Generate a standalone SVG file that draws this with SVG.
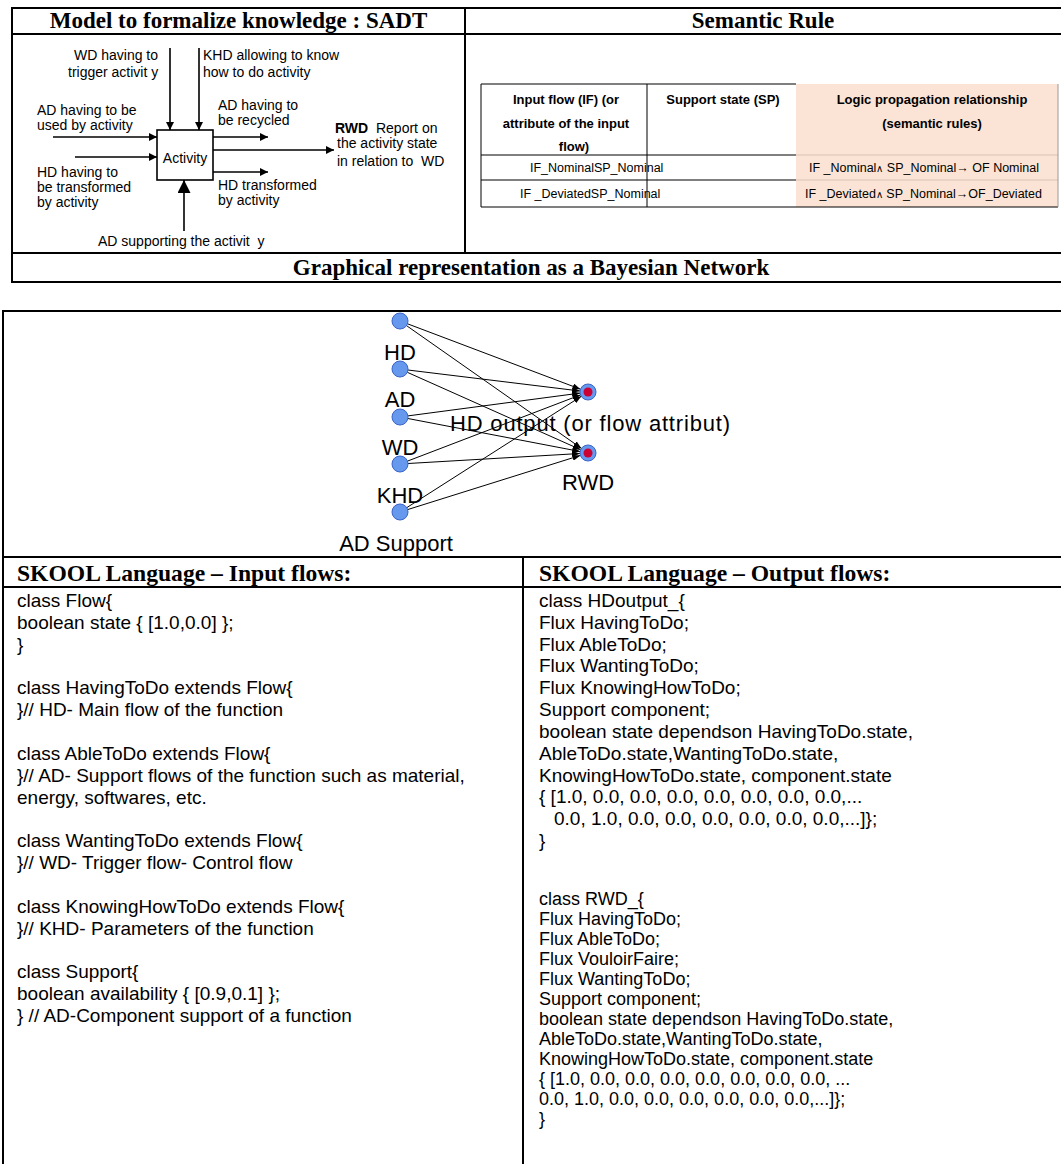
<svg xmlns="http://www.w3.org/2000/svg" width="1061" height="1164" viewBox="0 0 1061 1164">
<style>
.h{font-family:"Liberation Serif","Times New Roman",serif;font-weight:bold;font-size:23px;fill:#000}
.hs{font-family:"Liberation Serif","Times New Roman",serif;font-weight:bold;font-size:23.6px;fill:#000}
.s{font-family:"Liberation Sans",Arial,sans-serif;font-size:14px;fill:#000}
.bn{font-family:"Liberation Sans",Arial,sans-serif;font-size:22px;fill:#000}
.th{font-family:"Liberation Sans",Arial,sans-serif;font-weight:bold;font-size:13px;fill:#000}
.td{font-family:"Liberation Sans",Arial,sans-serif;font-size:12.5px;fill:#000}
.code{font-family:"Liberation Sans",Arial,sans-serif;font-size:19px;fill:#000}
.code2{font-family:"Liberation Sans",Arial,sans-serif;font-size:18px;fill:#000}
.frame{stroke:#000;stroke-width:2;fill:none}
.thin{stroke:#000;stroke-width:1;fill:none}
.arr{stroke:#000;stroke-width:1.6;fill:none}
.edge{stroke:#000;stroke-width:1;fill:none}
.in{fill:#6699ee;stroke:#3a64c8;stroke-width:1}
.out{fill:#6699ee;stroke:#3a64c8;stroke-width:1}
.red{fill:#cc0033}
</style>
<defs>
<marker id="ah" viewBox="0 0 10 10" refX="10" refY="5" markerWidth="9" markerHeight="8" markerUnits="userSpaceOnUse" orient="auto"><path d="M0,0 L10,5 L0,10 z" fill="#000"/></marker>
<marker id="ahb" viewBox="0 0 10 10" refX="10" refY="5" markerWidth="13" markerHeight="13" markerUnits="userSpaceOnUse" orient="auto"><path d="M0,0 L10,5 L0,10 z" fill="#000"/></marker>
<marker id="ahs" viewBox="0 0 8 6" refX="8" refY="3" markerWidth="8" markerHeight="6" markerUnits="userSpaceOnUse" orient="auto"><path d="M0,0 L8,3 L0,6 z" fill="#000"/></marker>
</defs>
<rect x="0" y="0" width="1061" height="1164" fill="#fff"/>

<g id="top-table">
<line class="frame" x1="12" y1="8" x2="1061" y2="8"/>
<line class="frame" x1="12" y1="34" x2="1061" y2="34"/>
<line class="frame" x1="12" y1="253" x2="1061" y2="253"/>
<line class="frame" x1="12" y1="282" x2="1061" y2="282"/>
<line class="frame" x1="12" y1="7" x2="12" y2="283"/>
<line class="frame" x1="465" y1="8" x2="465" y2="253"/>
<text class="h" x="238.5" y="28" text-anchor="middle">Model to formalize knowledge : SADT</text>
<text class="h" x="763" y="28" text-anchor="middle">Semantic Rule</text>
<text class="h" x="531" y="275" text-anchor="middle">Graphical representation as a Bayesian Network</text>
</g>

<g id="sadt-activity">
<rect x="157" y="130" width="56" height="50" fill="#fff" stroke="#000" stroke-width="1.6"/>
<text class="s" x="185" y="163" text-anchor="middle">Activity</text>
</g>
<g id="sadt-connectors">
<line class="arr" x1="170" y1="48" x2="170" y2="130" marker-end="url(#ah)"/>
<line class="arr" x1="199" y1="48" x2="199" y2="130" marker-end="url(#ah)"/>
<line class="arr" x1="53" y1="137" x2="157" y2="137" marker-end="url(#ah)"/>
<line class="arr" x1="75" y1="157" x2="157" y2="157" marker-end="url(#ah)"/>
<line class="arr" x1="213" y1="137" x2="268" y2="137" marker-end="url(#ah)"/>
<line class="arr" x1="213" y1="150" x2="334" y2="150" marker-end="url(#ah)"/>
<line class="arr" x1="213" y1="172" x2="268" y2="172" marker-end="url(#ah)"/>
<line class="arr" x1="184" y1="231" x2="184" y2="180" marker-end="url(#ahb)"/>
</g>
<g id="sadt-labels">
<text class="s" x="74" y="60">WD having to</text>
<text class="s" x="68" y="77" xml:space="preserve">trigger activit y</text>
<text class="s" x="203" y="60">KHD allowing to know</text>
<text class="s" x="203" y="77">how to do activity</text>
<text class="s" x="37" y="115">AD having to be</text>
<text class="s" x="37" y="130">used by activity</text>
<text class="s" x="37" y="177">HD having to</text>
<text class="s" x="37" y="192">be transformed</text>
<text class="s" x="37" y="207">by activity</text>
<text class="s" x="218" y="110">AD having to</text>
<text class="s" x="218" y="125">be recycled</text>
<text class="s" x="335" y="133" xml:space="preserve"><tspan font-weight="bold">RWD</tspan>  Report on</text>
<text class="s" x="337" y="148">the activity state</text>
<text class="s" x="337" y="166" xml:space="preserve">in relation to  WD</text>
<text class="s" x="218" y="190">HD transformed</text>
<text class="s" x="218" y="205">by activity</text>
<text class="s" x="98" y="246" xml:space="preserve">AD supporting the activit  y</text>
</g>

<g id="semantic-table">
<rect x="796" y="84" width="262" height="123" fill="#fbe4d5"/>
<line class="thin" x1="481" y1="84" x2="796" y2="84"/>
<line class="thin" x1="481" y1="155" x2="796" y2="155"/>
<line class="thin" x1="481" y1="180" x2="796" y2="180"/>
<line stroke="#d9c2b3" stroke-width="1" x1="796" y1="155" x2="1058" y2="155"/>
<line stroke="#d9c2b3" stroke-width="1" x1="796" y1="180" x2="1058" y2="180"/>
<line class="thin" x1="481" y1="207" x2="1058" y2="207"/>
<line class="thin" x1="481" y1="84" x2="481" y2="207"/>
<line class="thin" x1="647" y1="84" x2="647" y2="207"/>
<line stroke="#999" stroke-width="1" x1="1058" y1="84" x2="1058" y2="207"/>
<text class="th" x="566" y="104" text-anchor="middle">Input flow (IF) (or</text>
<text class="th" x="566" y="128" text-anchor="middle">attribute of the input</text>
<text class="th" x="574" y="151" text-anchor="middle">flow)</text>
<text class="th" x="723" y="104" text-anchor="middle">Support state (SP)</text>
<text class="th" x="932" y="104" text-anchor="middle">Logic propagation relationship</text>
<text class="th" x="932" y="128" text-anchor="middle">(semantic rules)</text>
<text class="td" x="530" y="172">IF_NominalSP_Nominal</text>
<text class="td" x="520" y="198">IF _DeviatedSP_Nominal</text>
<text class="td" x="809" y="172">IF _Nominal<tspan font-size="10">∧</tspan> SP_Nominal→ OF Nominal</text>
<text class="td" x="805" y="198">IF _Deviated<tspan font-size="10">∧</tspan> SP_Nominal→OF_Deviated</text>
</g>

<g id="lower-frame">
<line class="frame" x1="3" y1="311" x2="1061" y2="311"/>
<line class="frame" x1="3" y1="310" x2="3" y2="1164"/>
<line class="frame" x1="3" y1="557" x2="1061" y2="557"/>
<line class="frame" x1="3" y1="587" x2="1061" y2="587"/>
<line class="frame" x1="523" y1="557" x2="523" y2="1164"/>
<text class="hs" x="17" y="581">SKOOL Language – Input flows:</text>
<text class="hs" x="539" y="581">SKOOL Language – Output flows:</text>
</g>

<g id="bn-connectors">
<line class="edge" x1="407.5" y1="323.8" x2="580.5" y2="389.2" marker-end="url(#ahs)"/>
<line class="edge" x1="406.5" y1="325.6" x2="581.5" y2="448.4" marker-end="url(#ahs)"/>
<line class="edge" x1="407.9" y1="370" x2="580.1" y2="391" marker-end="url(#ahs)"/>
<line class="edge" x1="407.3" y1="372.3" x2="580.7" y2="449.7" marker-end="url(#ahs)"/>
<line class="edge" x1="407.9" y1="415.9" x2="580.1" y2="393.1" marker-end="url(#ahs)"/>
<line class="edge" x1="407.9" y1="418.5" x2="580.1" y2="451.5" marker-end="url(#ahs)"/>
<line class="edge" x1="407.5" y1="461.1" x2="580.5" y2="394.9" marker-end="url(#ahs)"/>
<line class="edge" x1="408" y1="463.5" x2="580" y2="453.5" marker-end="url(#ahs)"/>
<line class="edge" x1="406.7" y1="507.7" x2="581.3" y2="396.3" marker-end="url(#ahs)"/>
<line class="edge" x1="407.6" y1="509.6" x2="580.4" y2="455.4" marker-end="url(#ahs)"/>
</g>
<g id="bn-hd"><circle class="in" cx="400" cy="321" r="8"/><text class="bn" x="400" y="360" text-anchor="middle">HD</text></g>
<g id="bn-ad"><circle class="in" cx="400" cy="369" r="8"/><text class="bn" x="400" y="407" text-anchor="middle">AD</text></g>
<g id="bn-wd"><circle class="in" cx="400" cy="417" r="8"/><text class="bn" x="400" y="455" text-anchor="middle">WD</text></g>
<g id="bn-khd"><circle class="in" cx="400" cy="464" r="8"/><text class="bn" x="400" y="503" text-anchor="middle">KHD</text></g>
<g id="bn-adsupport"><circle class="in" cx="400" cy="512" r="8"/><text class="bn" x="396" y="551" text-anchor="middle">AD Support</text></g>
<g id="bn-hdoutput"><circle class="out" cx="588" cy="392" r="8"/><circle class="red" cx="588" cy="392" r="4.5"/><text class="bn" x="450" y="431" textLength="280" lengthAdjust="spacing">HD output (or flow attribut)</text></g>
<g id="bn-rwd"><circle class="out" cx="588" cy="453" r="8"/><circle class="red" cx="588" cy="453" r="4.5"/><text class="bn" x="588" y="490" text-anchor="middle">RWD</text></g>

<g id="skool-input">
<text class="code" x="17" y="607">class Flow{</text>
<text class="code" x="17" y="629">boolean state { [1.0,0.0] };</text>
<text class="code" x="17" y="651">}</text>
<text class="code" x="17" y="694">class HavingToDo extends Flow{</text>
<text class="code" x="17" y="716">}// HD- Main flow of the function</text>
<text class="code" x="17" y="760">class AbleToDo extends Flow{</text>
<text class="code" x="17" y="782">}// AD- Support flows of the function such as material,</text>
<text class="code" x="17" y="804">energy, softwares, etc.</text>
<text class="code" x="17" y="847">class WantingToDo extends Flow{</text>
<text class="code" x="17" y="869">}// WD- Trigger flow- Control flow</text>
<text class="code" x="17" y="913">class KnowingHowToDo extends Flow{</text>
<text class="code" x="17" y="935">}// KHD- Parameters of the function</text>
<text class="code" x="17" y="978">class Support{</text>
<text class="code" x="17" y="1000">boolean availability { [0.9,0.1] };</text>
<text class="code" x="17" y="1022">} // AD-Component support of a function</text>
</g>

<g id="skool-hdoutput">
<text class="code" x="539" y="607">class HDoutput_{</text>
<text class="code" x="539" y="629">Flux HavingToDo;</text>
<text class="code" x="539" y="651">Flux AbleToDo;</text>
<text class="code" x="539" y="672">Flux WantingToDo;</text>
<text class="code" x="539" y="694">Flux KnowingHowToDo;</text>
<text class="code" x="539" y="716">Support component;</text>
<text class="code" x="539" y="738">boolean state dependson HavingToDo.state,</text>
<text class="code" x="539" y="760">AbleToDo.state,WantingToDo.state,</text>
<text class="code" x="539" y="782">KnowingHowToDo.state, component.state</text>
<text class="code" x="539" y="803">{ [1.0, 0.0, 0.0, 0.0, 0.0, 0.0, 0.0, 0.0,...</text>
<text class="code" x="554" y="825">0.0, 1.0, 0.0, 0.0, 0.0, 0.0, 0.0, 0.0,...]};</text>
<text class="code" x="539" y="847">}</text>
</g>

<g id="skool-rwd">
<text class="code2" x="539" y="905">class RWD_{</text>
<text class="code2" x="539" y="925">Flux HavingToDo;</text>
<text class="code2" x="539" y="945">Flux AbleToDo;</text>
<text class="code2" x="539" y="965">Flux VouloirFaire;</text>
<text class="code2" x="539" y="985">Flux WantingToDo;</text>
<text class="code2" x="539" y="1005">Support component;</text>
<text class="code2" x="539" y="1025">boolean state dependson HavingToDo.state,</text>
<text class="code2" x="539" y="1045">AbleToDo.state,WantingToDo.state,</text>
<text class="code2" x="539" y="1065">KnowingHowToDo.state, component.state</text>
<text class="code2" x="539" y="1085">{ [1.0, 0.0, 0.0, 0.0, 0.0, 0.0, 0.0, 0.0, ...</text>
<text class="code2" x="539" y="1105">0.0, 1.0, 0.0, 0.0, 0.0, 0.0, 0.0, 0.0,...]};</text>
<text class="code2" x="539" y="1125">}</text>
</g>
</svg>
